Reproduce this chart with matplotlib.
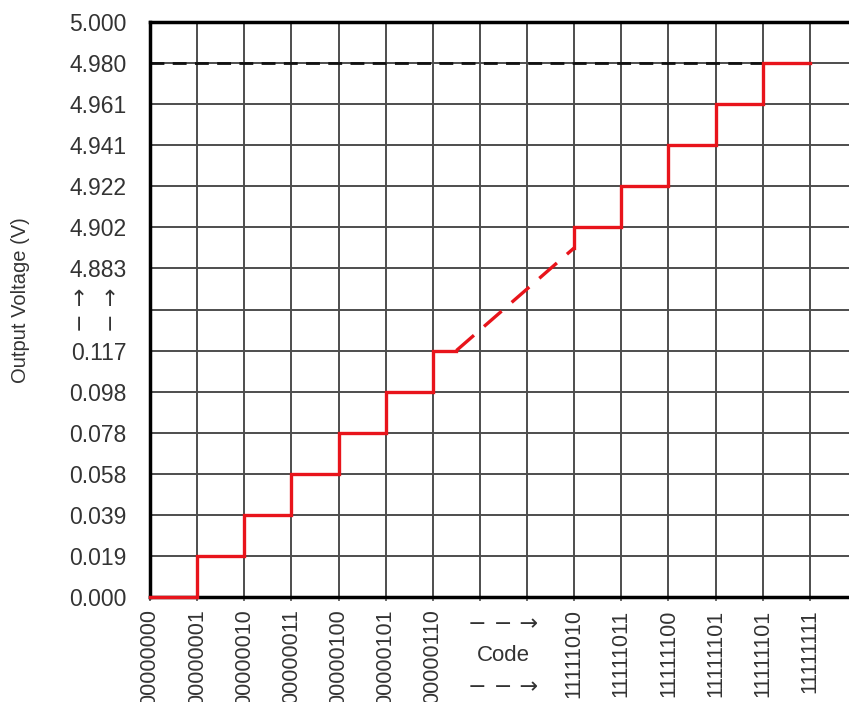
import matplotlib
matplotlib.use('Agg')
import matplotlib.pyplot as plt

plt.rcParams['font.family'] = ['Liberation Sans', 'DejaVu Sans']

# Подписи осей (позиции по сетке 0..14)
code_labels = ['00000000', '00000001', '00000010', '00000011', '00000100',
               '00000101', '00000110', '', '', '11111010', '11111011',
               '11111100', '11111101', '11111101', '11111111']
volt_labels = ['0.000', '0.019', '0.039', '0.058', '0.078', '0.098', '0.117', '',
               '4.883', '4.902', '4.922', '4.941', '4.961', '4.980', '5.000']

# Нижняя лестница (ступени)
low_x = [0, 1, 2, 3, 4, 5, 6, 6.5]
low_y = [0, 1, 2, 3, 4, 5, 6, 6]
# Пропуск (штриховая диагональ)
gap_x = [6.5, 9]
gap_y = [6, 8.5]
# Верхняя лестница
up_x = [9, 9, 10, 11, 12, 13, 14]
up_y = [8.5, 9, 10, 11, 12, 13, 13]
# Уровень 4.980 В
ref_x = [0, 13]
ref_y = [13, 13]

red = '#e8141b'
grey_txt = '#333333'
arrow_font = ['DejaVu Sans']

fig = plt.figure(figsize=(8.49, 7.02), dpi=100)
ax = fig.add_axes([150 / 849, 105 / 702, 707 / 849, 575 / 702])

ax.set_xlim(0, 15)
ax.set_ylim(0, 14)
ax.set_xticks(range(15))
ax.set_yticks(range(15))
ax.set_xticklabels(code_labels, rotation=90, fontsize=15.5, va='top')
ax.set_yticklabels(volt_labels, fontsize=16.5)
ax.tick_params(axis='y', length=0, pad=17, colors=grey_txt)
ax.tick_params(axis='x', length=3, width=1.2, color='#555555', pad=6, labelcolor=grey_txt)
ax.grid(True, color='#4d4d4d', linewidth=1.4)
ax.set_axisbelow(True)

for side in ['left', 'top', 'bottom']:
    ax.spines[side].set_linewidth(2.5)
    ax.spines[side].set_color('black')
ax.spines['right'].set_visible(False)

ax.plot(ref_x, ref_y, color='#111111', linewidth=2, linestyle=(0, (5, 3)))
ax.step(low_x, low_y, where='post', color=red, linewidth=2.4,
        solid_joinstyle='miter', zorder=4, clip_on=False)
ax.plot(gap_x, gap_y, color=red, linewidth=2.4, linestyle=(0, (7, 4)), zorder=4)
ax.step(up_x, up_y, where='post', color=red, linewidth=2.4,
        solid_joinstyle='miter', zorder=4)

# "Code" со стрелками между подписями
ax.text(7.5, -0.65, '− − →', ha='center', va='center', fontsize=16, color=grey_txt,
        family=arrow_font, clip_on=False)
ax.text(7.5, -1.42, 'Code', ha='center', va='center', fontsize=16, color=grey_txt,
        clip_on=False)
ax.text(7.5, -2.2, '− − →', ha='center', va='center', fontsize=16, color=grey_txt,
        family=arrow_font, clip_on=False)

# стрелки на оси Y вместо подписи
fig.text(81 / 849, 1 - 310 / 702, '− →', rotation=90, ha='center', va='center',
         fontsize=16, color=grey_txt, family=arrow_font)
fig.text(112 / 849, 1 - 310 / 702, '− →', rotation=90, ha='center', va='center',
         fontsize=16, color=grey_txt, family=arrow_font)

fig.text(21 / 849, 1 - 300 / 702, 'Output Voltage (V)', rotation=90, ha='center',
         va='center', fontsize=14.5, color=grey_txt)

fig.savefig('out.png', dpi=100)
